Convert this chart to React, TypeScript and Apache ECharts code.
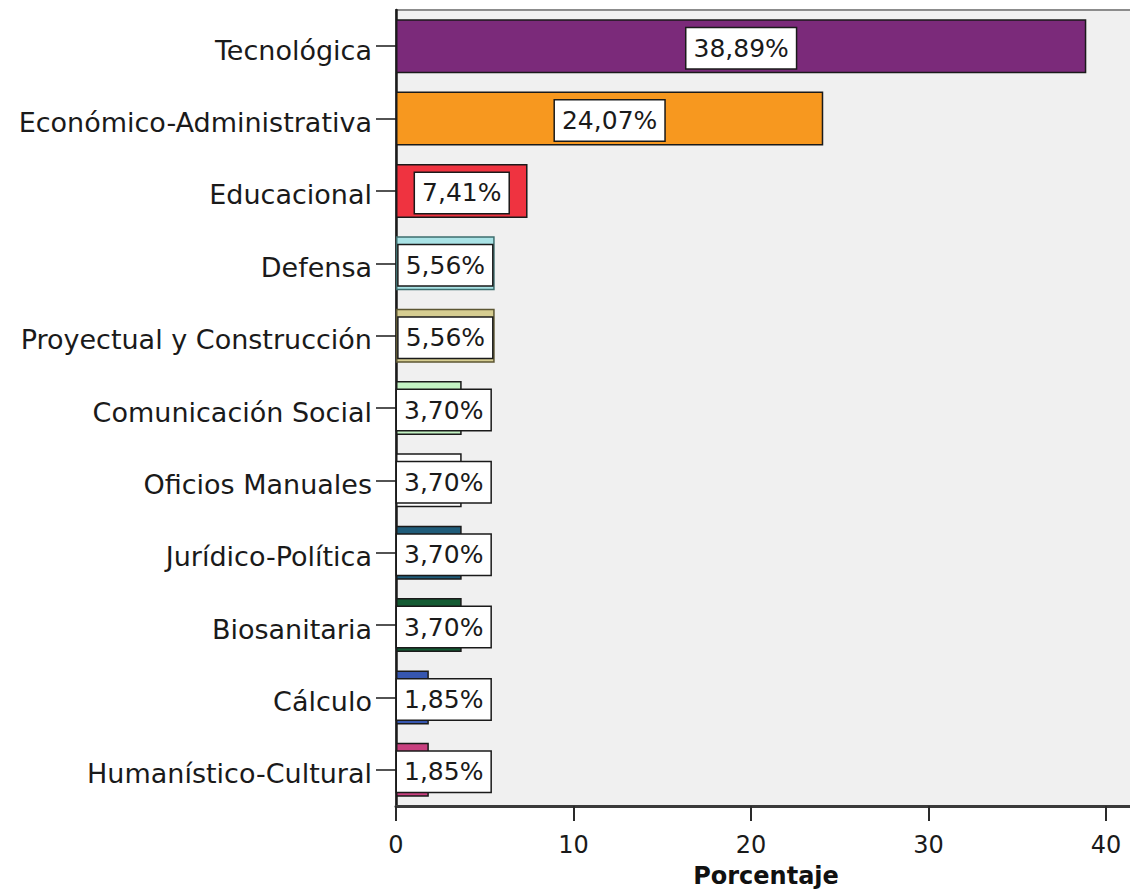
import React, { useEffect, useRef } from "react";
import * as echarts from "echarts";

const categories = [
  "Tecnológica",
  "Económico-Administrativa",
  "Educacional",
  "Defensa",
  "Proyectual y Construcción",
  "Comunicación Social",
  "Oficios Manuales",
  "Jurídico-Política",
  "Biosanitaria",
  "Cálculo",
  "Humanístico-Cultural",
];
const values = [38.89, 24.07, 7.41, 5.56, 5.56, 3.7, 3.7, 3.7, 3.7, 1.85, 1.85];
const barColors = [
  "#7b2a7a",
  "#f7981f",
  "#ef3340",
  "#a9e3e6",
  "#d6cd91",
  "#c3f2c3",
  "#ffffff",
  "#1f5c7a",
  "#155c34",
  "#3656b0",
  "#c8407f",
];
const barBorders = [
  "#1a1a1a",
  "#1a1a1a",
  "#1a1a1a",
  "#3e6e6e",
  "#5c5632",
  "#1a1a1a",
  "#1a1a1a",
  "#1a1a1a",
  "#1a1a1a",
  "#1a1a1a",
  "#1a1a1a",
];
const xTickValues = [0, 10, 20, 30, 40];
const xAxisTitle = "Porcentaje";

const FONT = "DejaVu Sans";

export default function App() {
  const ref = useRef<HTMLDivElement>(null);
  useEffect(() => {
    if (!ref.current) return;
    const chart = echarts.init(ref.current, null, { renderer: "svg" });
    const plotLeft = 396;
    const pxPerUnit = 710 / 40;
    const gridWidth = 740;
    const data = values.map((v, i) => ({
      value: v,
      itemStyle: { color: barColors[i], borderColor: barBorders[i], borderWidth: 1.5 },
      label: v < 5 ? { position: "insideLeft", distance: 1 } : { position: "inside" },
    }));
    chart.setOption({
      animation: false,
      grid: {
        left: plotLeft,
        top: 10,
        width: gridWidth,
        height: 803,
        show: true,
        backgroundColor: "#f0f0f0",
        borderColor: "#8c8c8c",
        borderWidth: 2,
      },
      xAxis: {
        type: "value",
        min: 0,
        max: gridWidth / pxPerUnit,
        splitLine: { show: false },
        axisLine: { show: true, lineStyle: { color: "#3a3a3a", width: 3 } },
        axisTick: {
          show: true,
          length: 15,
          customValues: xTickValues,
          lineStyle: { color: "#2a2a2a", width: 2 },
        },
        axisLabel: {
          margin: 27,
          fontSize: 24,
          fontFamily: FONT,
          color: "#1a1a1a",
          customValues: xTickValues,
        },
        name: xAxisTitle,
        nameLocation: "middle",
        nameGap: 58,
        nameTextStyle: { fontSize: 24, fontWeight: "bold", fontFamily: FONT, color: "#111" },
      },
      yAxis: {
        type: "category",
        data: categories,
        inverse: true,
        axisLine: { show: true, lineStyle: { color: "#1a1a1a", width: 2.5 } },
        axisTick: { show: true, alignWithLabel: true, length: 20, lineStyle: { color: "#1a1a1a", width: 1.5 } },
        axisLabel: {
          margin: 24,
          color: "#1a1a1a",
          formatter: (v: string) => "{c|" + v + "}",
          rich: {
            c: {
              fontSize: 27,
              fontFamily: FONT,
              color: "#1a1a1a",
              lineHeight: 32,
              padding: [8, 0, 0, 0],
            },
          },
        },
      },
      series: [
        {
          type: "bar",
          data,
          barWidth: 54,
          label: {
            show: true,
            formatter: (p: any) => p.value.toFixed(2).replace(".", ",") + "%",
            fontSize: 25,
            fontFamily: FONT,
            color: "#1a1a1a",
            backgroundColor: "#ffffff",
            borderColor: "#1a1a1a",
            borderWidth: 1.5,
            lineHeight: 29,
            padding: [6, 7, 5, 7],
            offset: [0, 2],
          },
        },
      ],
    });
    return () => chart.dispose();
  }, []);
  return (
    <div
      style={{
        position: "absolute",
        left: 0,
        top: 0,
        width: 1130,
        height: 893,
        overflow: "hidden",
        background: "#ffffff",
      }}
    >
      <div ref={ref} style={{ width: 1170, height: 893 }} />
    </div>
  );
}
